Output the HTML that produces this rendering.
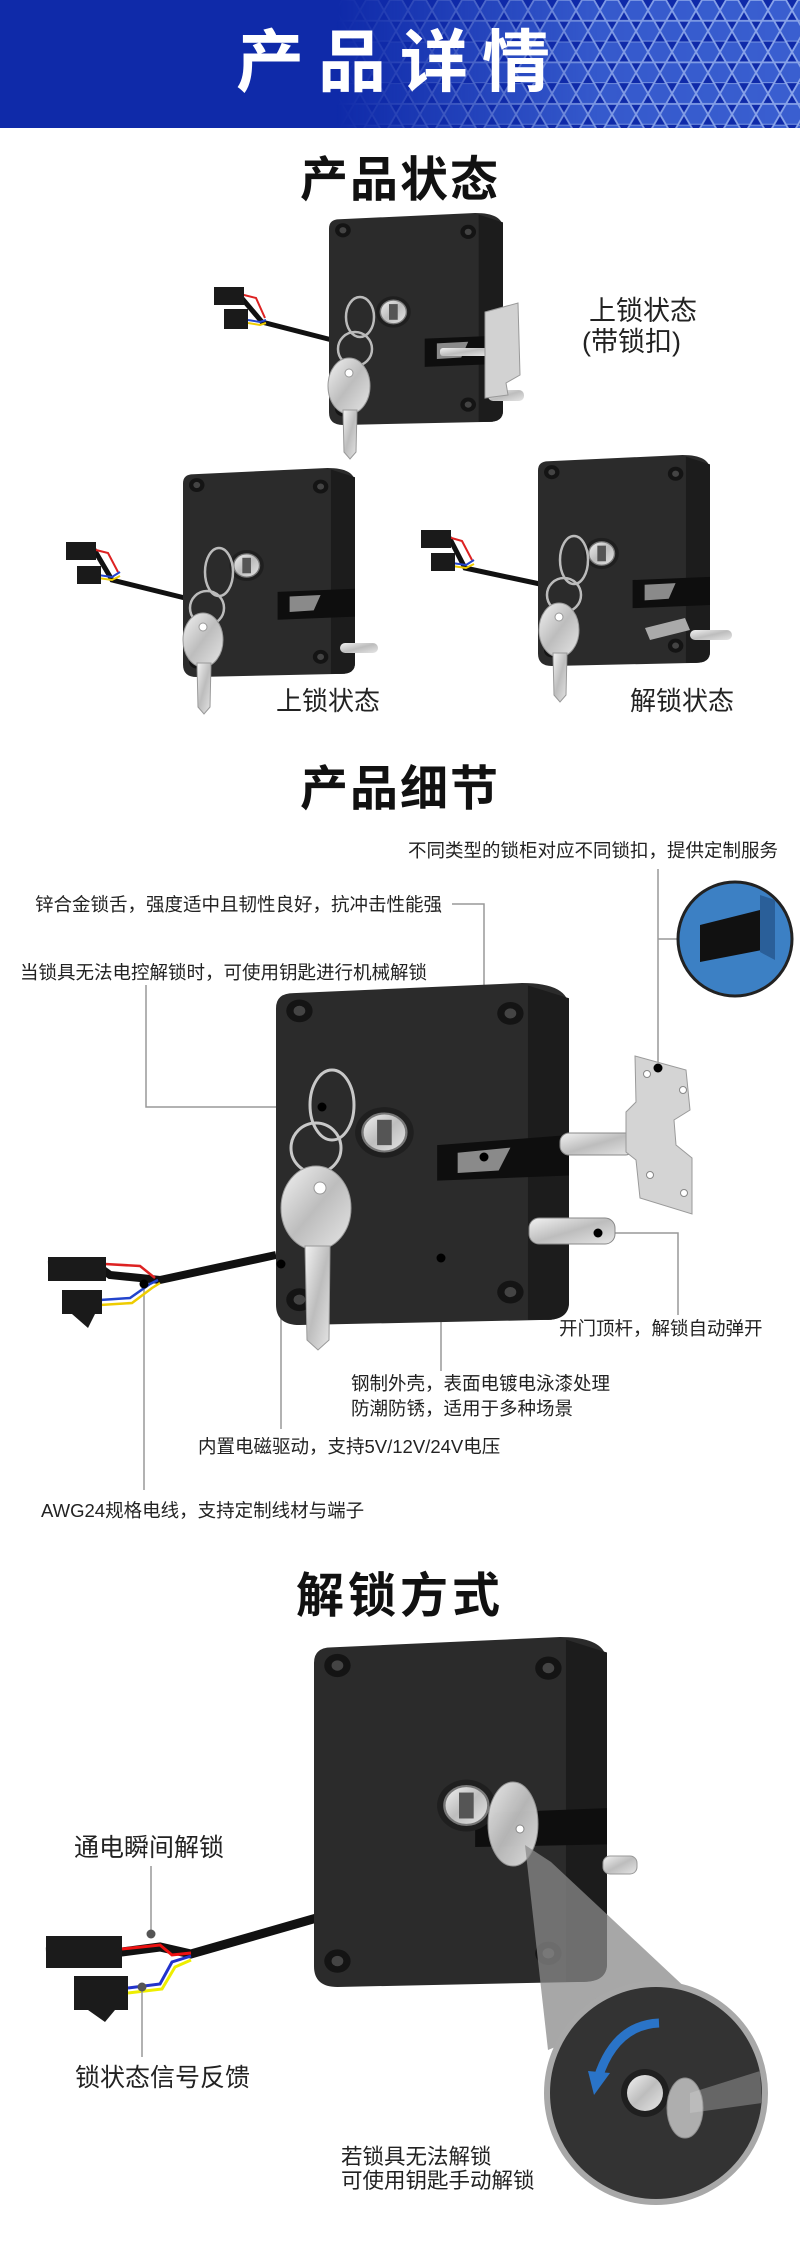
<!DOCTYPE html>
<html><head><meta charset="utf-8">
<style>
html,body{margin:0;padding:0;background:#fff;}
svg{display:block;}
text{font-family:"Liberation Sans","Noto Sans CJK SC",sans-serif;}
</style></head>
<body>
<svg width="800" height="2253" viewBox="0 0 800 2253" xmlns="http://www.w3.org/2000/svg">
<defs>
  <pattern id="hex" width="24" height="41.57" patternUnits="userSpaceOnUse">
    <path d="M6 0 L18 0 L24 10.39 L18 20.78 L6 20.78 L0 10.39 Z" fill="#3a5fd0" stroke="#8aa5ea" stroke-width="1.8"/>
    <path d="M18 20.78 L30 20.78 L36 31.17 L30 41.57 L18 41.57 L12 31.17 Z" fill="#3a5fd0" stroke="#8aa5ea" stroke-width="1.8"/>
    <path d="M-6 20.78 L6 20.78 L12 31.17 L6 41.57 L-6 41.57 L-12 31.17 Z" fill="#3a5fd0" stroke="#8aa5ea" stroke-width="1.8"/>
  </pattern>
  <linearGradient id="hg" x1="0" x2="1" y1="0" y2="0">
    <stop offset="0" stop-color="#fff" stop-opacity="0"/>
    <stop offset="0.42" stop-color="#fff" stop-opacity="0"/>
    <stop offset="0.75" stop-color="#fff" stop-opacity="0.9"/>
    <stop offset="1" stop-color="#fff" stop-opacity="1"/>
  </linearGradient>
  <mask id="hm"><rect width="800" height="128" fill="url(#hg)"/></mask>
  <linearGradient id="silver" x1="0" x2="1" y1="0" y2="1">
    <stop offset="0" stop-color="#f2f2f2"/><stop offset="0.5" stop-color="#bdbdbd"/><stop offset="1" stop-color="#e6e6e6"/>
  </linearGradient>
  <g id="common">
    <circle cx="8" cy="11" r="4.5" fill="#141414"/><circle cx="8" cy="11" r="2" fill="#444"/>
    <circle cx="80" cy="12" r="4.5" fill="#141414"/><circle cx="80" cy="12" r="2" fill="#444"/>
    <circle cx="8" cy="125" r="4.5" fill="#141414"/><circle cx="8" cy="125" r="2" fill="#444"/>
    <circle cx="80" cy="122" r="4.5" fill="#141414"/><circle cx="80" cy="122" r="2" fill="#444"/>
  </g>
  <symbol id="lockA" viewBox="0 0 100 135" preserveAspectRatio="none">
    <path d="M6 4 L84 0 Q100 0 100 10 L100 126 Q100 133 92 133 L8 135 Q0 135 0 127 L0 10 Q0 4 6 4 Z" fill="#2b2b2b"/>
    <path d="M86 1 L100 6 L100 126 Q100 133 92 133 L86 133 Z" fill="#1c1c1c"/>
    <path d="M55 80 L100 78 L100 96 L55 98 Z" fill="#0e0e0e"/>
    <path d="M62 83 L80 82 L76 92 L62 93 Z" fill="#8a8a8a"/>
    <use href="#common"/>
    <circle cx="37" cy="63" r="10" fill="#1f1f1f"/>
    <circle cx="37" cy="63" r="7.5" fill="url(#silver)" stroke="#777" stroke-width="0.8"/>
    <rect x="34.5" y="58" width="5" height="10" fill="#555"/>
  </symbol>
  <symbol id="lockB" viewBox="0 0 100 135" preserveAspectRatio="none">
    <path d="M6 4 L84 0 Q100 0 100 10 L100 126 Q100 133 92 133 L8 135 Q0 135 0 127 L0 10 Q0 4 6 4 Z" fill="#2b2b2b"/>
    <path d="M86 1 L100 6 L100 126 Q100 133 92 133 L86 133 Z" fill="#1c1c1c"/>
    <path d="M55 64 L100 60 L100 76 L55 78 Z" fill="#0e0e0e"/>
    <path d="M62 67 L80 65 L76 74 L62 75 Z" fill="#8a8a8a"/>
    <use href="#common"/>
    <circle cx="37" cy="59" r="10" fill="#1f1f1f"/>
    <circle cx="37" cy="59" r="7.5" fill="url(#silver)" stroke="#777" stroke-width="0.8"/>
    <rect x="34.5" y="54" width="5" height="10" fill="#555"/>
  </symbol>
  <symbol id="lockC" viewBox="0 0 100 135" preserveAspectRatio="none">
    <path d="M6 4 L84 0 Q100 0 100 10 L100 126 Q100 133 92 133 L8 135 Q0 135 0 127 L0 10 Q0 4 6 4 Z" fill="#2b2b2b"/>
    <path d="M86 1 L100 6 L100 126 Q100 133 92 133 L86 133 Z" fill="#1c1c1c"/>
    <path d="M55 68 L100 66 L100 80 L55 81 Z" fill="#0e0e0e"/>
    <use href="#common"/>
    <circle cx="52" cy="65" r="10" fill="#1f1f1f"/>
    <circle cx="52" cy="65" r="7.5" fill="url(#silver)" stroke="#777" stroke-width="0.8"/>
    <rect x="49.5" y="60" width="5" height="10" fill="#555"/>
  </symbol>
</defs>

<!-- Header -->
<rect x="0" y="0" width="800" height="128" fill="#0f2aa9"/>
<rect x="0" y="0" width="800" height="128" fill="url(#hex)" mask="url(#hm)"/>
<text x="400" y="86" text-anchor="middle" font-size="68" font-weight="bold" fill="#fff" letter-spacing="14">产品详情</text>

<!-- Section 1 -->
<text x="400" y="196" text-anchor="middle" font-size="48" font-weight="bold" fill="#111" letter-spacing="2">产品状态</text>

<!-- Lock 1 -->
<g>
  <path d="M214 296 L240 296 L262 322 L332 340" fill="none" stroke="#111" stroke-width="5"/>
  <path d="M240 294 L256 298 L265 318" fill="none" stroke="#d22" stroke-width="2"/>
  <path d="M248 320 L260 322 L266 320" fill="none" stroke="#24c" stroke-width="2"/>
  <path d="M248 323 L260 325 L266 323" fill="none" stroke="#ec0" stroke-width="2"/>
  <rect x="214" y="287" width="30" height="18" fill="#1a1a1a"/>
  <rect x="224" y="309" width="24" height="20" fill="#1a1a1a"/>
  <use href="#lockA" x="329" y="213" width="174" height="212"/>
  <rect x="488" y="390" width="36" height="11" rx="5" fill="url(#silver)"/>
  <rect x="440" y="348" width="48" height="8" rx="3" fill="url(#silver)"/>
  <path d="M485 312 L518 303 L520 375 L506 383 L508 395 L485 398 Z" fill="#d2d2d2" stroke="#999"/>
  <ellipse cx="360" cy="317" rx="14" ry="20" fill="none" stroke="#bbb" stroke-width="2.5"/>
  <circle cx="355" cy="349" r="17" fill="none" stroke="#bbb" stroke-width="2.5"/>
  <ellipse cx="349" cy="386" rx="21" ry="28" fill="url(#silver)" stroke="#999"/>
  <circle cx="349" cy="373" r="4" fill="#fff" stroke="#999"/>
  <path d="M343 410 L357 410 L356 452 L350 459 L344 452 Z" fill="url(#silver)" stroke="#999"/>
  <text x="589" y="320" font-size="27" fill="#222">上锁状态</text>
  <text x="582" y="351" font-size="27" fill="#222">(带锁扣)</text>
</g>

<!-- Lock 2 -->
<g>
  <path d="M66 551 L95 551 L112 580 L185 598" fill="none" stroke="#111" stroke-width="5"/>
  <path d="M92 549 L108 553 L118 572" fill="none" stroke="#d22" stroke-width="2"/>
  <path d="M98 575 L112 577 L120 572" fill="none" stroke="#24c" stroke-width="2"/>
  <path d="M98 578 L112 580 L120 576" fill="none" stroke="#ec0" stroke-width="2"/>
  <rect x="66" y="542" width="30" height="18" fill="#1a1a1a"/>
  <rect x="77" y="566" width="24" height="18" fill="#1a1a1a"/>
  <use href="#lockA" x="183" y="468" width="172" height="209"/>
  <rect x="340" y="643" width="38" height="10" rx="5" fill="url(#silver)"/>
  <ellipse cx="219" cy="572" rx="14" ry="24" fill="none" stroke="#bbb" stroke-width="2.5"/>
  <circle cx="207" cy="608" r="17" fill="none" stroke="#bbb" stroke-width="2.5"/>
  <ellipse cx="203" cy="640" rx="20" ry="27" fill="url(#silver)" stroke="#999"/>
  <circle cx="203" cy="627" r="4" fill="#fff" stroke="#999"/>
  <path d="M197 663 L211 663 L210 707 L204 714 L198 707 Z" fill="url(#silver)" stroke="#999"/>
  <text x="276" y="710" font-size="26" fill="#222">上锁状态</text>
</g>

<!-- Lock 3 -->
<g>
  <path d="M421 539 L450 539 L465 568 L540 584" fill="none" stroke="#111" stroke-width="5"/>
  <path d="M448 537 L462 541 L472 560" fill="none" stroke="#d22" stroke-width="2"/>
  <path d="M452 563 L466 565 L474 560" fill="none" stroke="#24c" stroke-width="2"/>
  <path d="M452 566 L466 568 L474 564" fill="none" stroke="#ec0" stroke-width="2"/>
  <rect x="421" y="530" width="30" height="18" fill="#1a1a1a"/>
  <rect x="431" y="553" width="24" height="18" fill="#1a1a1a"/>
  <use href="#lockA" x="538" y="455" width="172" height="211"/>
  <path d="M645 628 L685 618 L690 630 L650 640 Z" fill="#aaa"/>
  <rect x="690" y="630" width="42" height="10" rx="5" fill="url(#silver)"/>
  <ellipse cx="574" cy="560" rx="14" ry="24" fill="none" stroke="#bbb" stroke-width="2.5"/>
  <circle cx="564" cy="595" r="17" fill="none" stroke="#bbb" stroke-width="2.5"/>
  <ellipse cx="559" cy="630" rx="20" ry="27" fill="url(#silver)" stroke="#999"/>
  <circle cx="559" cy="617" r="4" fill="#fff" stroke="#999"/>
  <path d="M553 653 L567 653 L566 695 L560 702 L554 695 Z" fill="url(#silver)" stroke="#999"/>
  <text x="630" y="710" font-size="26" fill="#222">解锁状态</text>
</g>

<!-- Section 2 -->
<text x="400" y="805" text-anchor="middle" font-size="48" font-weight="bold" fill="#111" letter-spacing="2">产品细节</text>

<g stroke="#999" stroke-width="1.5" fill="none">
  <path d="M452 904 L484 904 L484 1157"/>
  <path d="M146 985 L146 1107 L322 1107"/>
  <path d="M658 869 L658 1068"/>
  <path d="M658 939 L678 939"/>
  <path d="M610 1233 L678 1233 L678 1315"/>
  <path d="M441 1258 L441 1371"/>
  <path d="M281 1264 L281 1429"/>
  <path d="M144 1284 L144 1490"/>
</g>

<!-- cable -->
<path d="M48 1265 L95 1264 L110 1275 L160 1280 L276 1255" fill="none" stroke="#111" stroke-width="8"/>
<path d="M105 1264 L140 1266 L155 1278" fill="none" stroke="#d22" stroke-width="2.5"/>
<path d="M100 1300 L130 1298 L150 1284 L158 1280" fill="none" stroke="#24c" stroke-width="2.5"/>
<path d="M100 1305 L132 1303 L152 1288 L160 1283" fill="none" stroke="#ec0" stroke-width="2.5"/>
<rect x="48" y="1257" width="58" height="24" fill="#1a1a1a"/>
<rect x="62" y="1290" width="40" height="24" fill="#1a1a1a"/>
<path d="M72 1314 L95 1314 L88 1328 Z" fill="#1a1a1a"/>

<use href="#lockB" x="276" y="983" width="293" height="342"/>
<rect x="529" y="1218" width="86" height="26" rx="10" fill="url(#silver)" stroke="#888"/>
<rect x="560" y="1133" width="74" height="22" rx="9" fill="url(#silver)" stroke="#888"/>
<path d="M635 1056 L686 1070 L690 1110 L674 1120 L676 1145 L692 1158 L692 1214 L640 1198 L636 1160 L626 1152 L626 1112 L636 1102 Z" fill="#d4d4d4" stroke="#9a9a9a"/>
<circle cx="647" cy="1074" r="3.5" fill="#fff" stroke="#888"/><circle cx="683" cy="1090" r="3.5" fill="#fff" stroke="#888"/>
<circle cx="650" cy="1175" r="3.5" fill="#fff" stroke="#888"/><circle cx="684" cy="1193" r="3.5" fill="#fff" stroke="#888"/>
<ellipse cx="332" cy="1105" rx="22" ry="35" fill="none" stroke="#c8c8c8" stroke-width="3"/>
<circle cx="316" cy="1148" r="25" fill="none" stroke="#c8c8c8" stroke-width="3"/>
<ellipse cx="316" cy="1208" rx="35" ry="42" fill="url(#silver)" stroke="#999"/>
<circle cx="320" cy="1188" r="6" fill="#fff" stroke="#999"/>
<path d="M305 1246 L330 1246 L329 1340 L318 1350 L307 1340 Z" fill="url(#silver)" stroke="#999"/>

<!-- blue inset -->
<circle cx="735" cy="939" r="57" fill="#3c80c4" stroke="#222" stroke-width="3"/>
<path d="M700 925 L760 910 L762 950 L700 962 Z" fill="#111"/>
<path d="M760 895 L775 900 L775 960 L760 952 Z" fill="#2a5f99"/>

<!-- dots -->
<g fill="#000">
  <circle cx="322" cy="1107" r="4.5"/><circle cx="484" cy="1157" r="4.5"/><circle cx="658" cy="1068" r="4.5"/>
  <circle cx="598" cy="1233" r="4.5"/><circle cx="441" cy="1258" r="4.5"/><circle cx="281" cy="1264" r="4.5"/>
  <circle cx="144" cy="1284" r="4.5"/>
</g>

<g font-size="18.5" fill="#222">
  <text x="408" y="857">不同类型的锁柜对应不同锁扣，提供定制服务</text>
  <text x="35" y="911">锌合金锁舌，强度适中且韧性良好，抗冲击性能强</text>
  <text x="20" y="979">当锁具无法电控解锁时，可使用钥匙进行机械解锁</text>
  <text x="559" y="1335">开门顶杆，解锁自动弹开</text>
  <text x="351" y="1390">钢制外壳，表面电镀电泳漆处理</text>
  <text x="351" y="1415">防潮防锈，适用于多种场景</text>
  <text x="198" y="1453">内置电磁驱动，支持5V/12V/24V电压</text>
  <text x="41" y="1517">AWG24规格电线，支持定制线材与端子</text>
</g>

<!-- Section 3 -->
<text x="400" y="1612" text-anchor="middle" font-size="48" font-weight="bold" fill="#111" letter-spacing="4">解锁方式</text>

<path d="M46 1952 L100 1950 L122 1952 L160 1947 L191 1954 L327 1915" fill="none" stroke="#111" stroke-width="9"/>
<path d="M122 1949 L160 1945 L172 1955 L191 1953" fill="none" stroke="#e11" stroke-width="3"/>
<path d="M128 1988 L160 1984 L172 1962 L191 1956" fill="none" stroke="#23c" stroke-width="3"/>
<path d="M128 1993 L162 1989 L175 1967 L191 1960" fill="none" stroke="#ee0" stroke-width="3"/>
<rect x="46" y="1936" width="76" height="32" fill="#1b1b1b"/>
<rect x="74" y="1976" width="54" height="34" fill="#1b1b1b"/>
<path d="M88 2010 L115 2010 L105 2022 Z" fill="#1b1b1b"/>
<g stroke="#999" stroke-width="1.5"><path d="M151 1866 L151 1934"/><path d="M142 1987 L142 2057"/></g>
<circle cx="151" cy="1934" r="4.5" fill="#555"/><circle cx="142" cy="1987" r="4.5" fill="#555"/>

<use href="#lockC" x="314" y="1637" width="293" height="350"/>
<rect x="603" y="1856" width="34" height="18" rx="7" fill="url(#silver)" stroke="#999"/>
<ellipse cx="513" cy="1824" rx="25" ry="42" fill="url(#silver)" stroke="#999" opacity="0.95"/>
<circle cx="520" cy="1829" r="4" fill="#fff" stroke="#888"/>
<polygon points="525,1845 551,1862 690,1992 548,2050" fill="#8a8a8a" opacity="0.75"/>
<circle cx="656" cy="2093" r="109" fill="#333" stroke="#a8a8a8" stroke-width="6"/>
<path d="M690 2093 L760 2071 L762 2103 L690 2113 Z" fill="#666"/>
<circle cx="645" cy="2093" r="24" fill="#1f1f1f"/>
<circle cx="645" cy="2093" r="18" fill="url(#silver)"/>
<ellipse cx="685" cy="2108" rx="18" ry="30" fill="#d8d8d8" opacity="0.75" stroke="#aaa"/>
<path d="M659 2023 Q615 2025 598 2078" fill="none" stroke="#2a74c8" stroke-width="9"/>
<polygon points="588,2071 610,2073 594,2095" fill="#2a74c8"/>
<text x="74" y="1856" font-size="25" fill="#222">通电瞬间解锁</text>
<text x="75" y="2086" font-size="25" fill="#222">锁状态信号反馈</text>
<text x="341" y="2164" font-size="21.5" fill="#222">若锁具无法解锁</text>
<text x="341" y="2188" font-size="21.5" fill="#222">可使用钥匙手动解锁</text>
</svg>
</body></html>
